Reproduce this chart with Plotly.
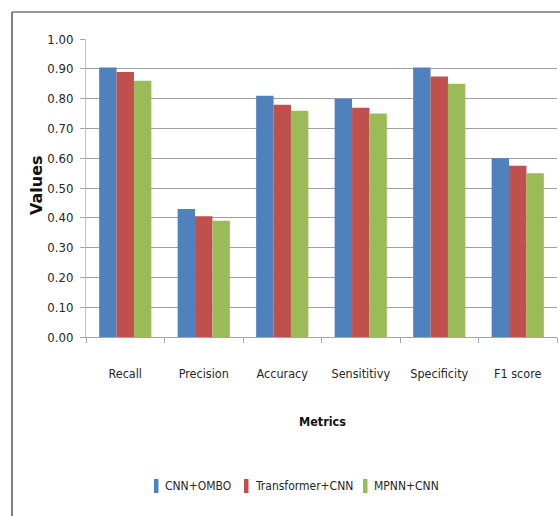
import plotly.graph_objects as go

metric_labels = ["Recall", "Precision", "Accuracy", "Sensititivy", "Specificity", "F1 score"]
series_names = ["CNN+OMBO", "Transformer+CNN", "MPNN+CNN"]
cnn_ombo = [0.905, 0.43, 0.81, 0.80, 0.905, 0.60]
transformer_cnn = [0.89, 0.405, 0.78, 0.77, 0.875, 0.575]
mpnn_cnn = [0.86, 0.39, 0.76, 0.75, 0.85, 0.55]
y_ticks = [i / 10 for i in range(11)]
y_tick_text = [f"{v:.2f}" for v in y_ticks]

colors = ["#4F81BD", "#C0504D", "#9BBB59"]

W, H = 560, 516
L, R, T, B = 86, 3, 39, 179
PW, PH = W - L - R, H - T - B

def px_x(x):
    return (x - L) / PW

def px_y(y):
    return (H - B - y) / PH

FONT = "DejaVu Sans Condensed, Liberation Sans, sans-serif"
TXT = "#262626"

fig = go.Figure()
for name, vals, col in zip(series_names, [cnn_ombo, transformer_cnn, mpnn_cnn], colors):
    fig.add_trace(go.Bar(
        name=name, x=metric_labels, y=vals,
        marker=dict(color=col, line=dict(width=0)),
        showlegend=False,
    ))

# Legend row below the axis title: narrow colour keys followed by the series name
legend_text_x = [163, 253, 372]
legend_mid_y = 486
shapes = []
annotations = []
for name, col, tx in zip(series_names, colors, legend_text_x):
    shapes.append(dict(type="rect", xref="paper", yref="paper",
                       x0=px_x(tx - 9), x1=px_x(tx - 4.5),
                       y0=px_y(legend_mid_y - 7), y1=px_y(legend_mid_y + 7),
                       fillcolor=col, line=dict(width=0)))
    annotations.append(dict(text=name, x=px_x(tx), y=px_y(legend_mid_y),
                            xref="paper", yref="paper", xanchor="left", yanchor="middle",
                            showarrow=False,
                            font=dict(family=FONT, size=12, color=TXT)))

annotations += [
    dict(text="<b>Values</b>", x=px_x(36), y=px_y(185), xref="paper", yref="paper",
         xanchor="center", yanchor="middle",
         textangle=-90, showarrow=False,
         font=dict(family="DejaVu Sans, sans-serif", size=16, color="#111")),
    dict(text="<b>Metrics</b>", x=px_x(322), y=px_y(422), xref="paper", yref="paper",
         xanchor="center", yanchor="middle",
         showarrow=False,
         font=dict(family=FONT, size=12.5, color="#111")),
]

# Outer frame (left and top edges)
shapes += [
    dict(type="line", xref="paper", yref="paper",
         x0=px_x(12), x1=px_x(12), y0=px_y(12), y1=px_y(516),
         line=dict(color="#555555", width=1.5)),
    dict(type="line", xref="paper", yref="paper",
         x0=px_x(12), x1=px_x(560), y0=px_y(12), y1=px_y(12),
         line=dict(color="#777777", width=1.5)),
]

fig.update_layout(
    width=W, height=H,
    margin=dict(l=L, r=R, t=T, b=B),
    paper_bgcolor="white", plot_bgcolor="white",
    barmode="group", bargap=0.335, bargroupgap=0,
    font=dict(family=FONT, size=13, color=TXT),
    showlegend=False,
    xaxis=dict(
        showgrid=False, showline=True, linecolor="#a6a6a6", linewidth=1,
        ticks="outside", tickson="boundaries", ticklen=5, tickcolor="#a6a6a6",
        ticklabelstandoff=25,
        tickfont=dict(family=FONT, size=12.5, color=TXT),
    ),
    yaxis=dict(
        range=[0, 1.0005], tickvals=y_ticks, ticktext=y_tick_text,
        showgrid=True, gridcolor="#a0a0a0", gridwidth=1,
        showline=True, linecolor="#c0c0c0", linewidth=1,
        ticks="outside", ticklen=5, tickcolor="#a6a6a6",
        zeroline=False,
        ticklabelstandoff=4,
        tickfont=dict(family=FONT, size=13, color=TXT),
    ),
    annotations=annotations,
    shapes=shapes,
)

fig.write_html("out.html")
